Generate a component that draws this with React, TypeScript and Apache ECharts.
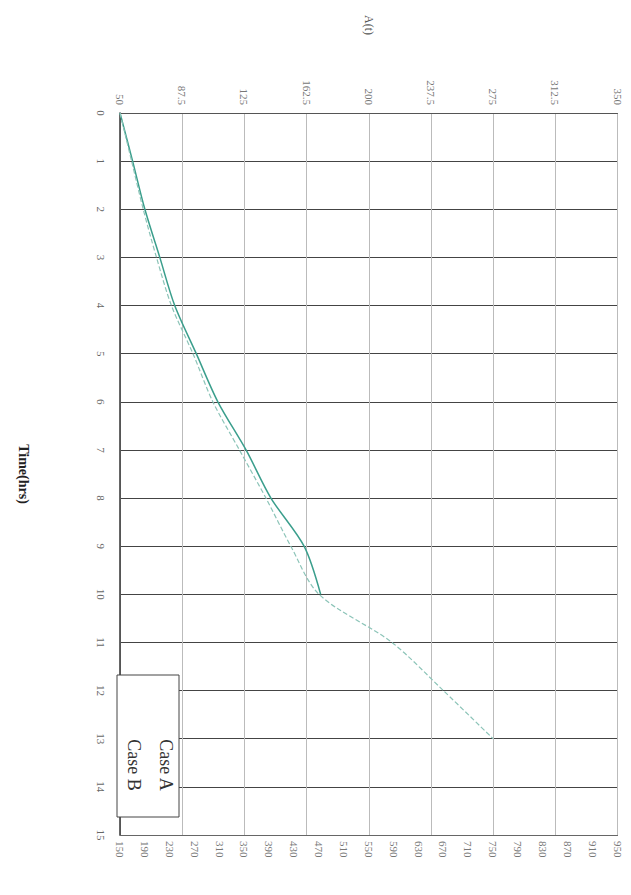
import React, { useEffect, useRef } from "react";
import * as echarts from "echarts";

// Time (hrs) for each series
const timesA = [0, 1, 2, 3, 4, 5, 6, 7, 8, 9, 10];
const caseA = [50, 57.6, 65, 74, 83, 96, 109, 126, 141, 161, 171];

const timesB = [0, 1, 2, 3, 4, 5, 6, 7, 8, 9, 10, 11, 12, 13];
const caseB = [50, 57, 64, 72, 81, 94, 106, 122, 138, 153, 170, 214, 245, 275];

// Secondary bottom scale labels
const bottomLabels = [
  "150", "190", "230", "270", "310", "350", "390", "430", "470", "510", "550",
  "590", "630", "670", "710", "750", "790", "830", "870", "910", "950",
];

const seriesNames = ["Case A", "Case B"];

const FONT = "Liberation Serif";

export default function App() {
  const ref = useRef<HTMLDivElement>(null);
  useEffect(() => {
    if (!ref.current) return;
    const chart = echarts.init(ref.current, undefined, { renderer: "svg" });
    chart.setOption({
      animation: false,
      backgroundColor: "#ffffff",
      grid: { left: 100, right: 2, top: 105, bottom: 52 },
      xAxis: [
        {
          type: "value",
          position: "top",
          min: 50,
          max: 350,
          interval: 37.5,
          name: "A(t)",
          nameLocation: "middle",
          nameRotate: -90,
          nameGap: 78,
          nameTextStyle: { fontFamily: FONT, fontSize: 12, color: "#555" },
          axisLine: { show: true, lineStyle: { color: "#555" } },
          axisTick: { show: false },
          axisLabel: {
            rotate: -90,
            fontFamily: FONT,
            fontSize: 11,
            color: "#777",
            margin: 8,
          },
          splitLine: { show: true, lineStyle: { color: "#bbbbbb", width: 1 } },
        },
        {
          type: "category",
          position: "bottom",
          boundaryGap: false,
          data: bottomLabels,
          axisLine: { show: true, lineStyle: { color: "#666" } },
          axisTick: { show: false },
          axisLabel: {
            rotate: -90,
            fontFamily: FONT,
            fontSize: 11,
            color: "#777",
            margin: 6,
            interval: 0,
          },
          splitLine: { show: false },
        },
      ],
      yAxis: {
        type: "value",
        inverse: true,
        min: 0,
        max: 15,
        interval: 1,
        name: "Time(hrs)",
        nameLocation: "middle",
        nameRotate: -90,
        nameGap: 90,
        nameTextStyle: { fontFamily: FONT, fontSize: 14, color: "#222", fontWeight: "bold" },
        axisLine: { show: true, lineStyle: { color: "#333", width: 1.5 } },
        axisTick: { show: false },
        axisLabel: {
          rotate: -90,
          fontFamily: FONT,
          fontSize: 11,
          color: "#666",
          margin: 14,
        },
        splitLine: { show: true, lineStyle: { color: "#444", width: 1.2 } },
      },
      series: [
        {
          name: seriesNames[0],
          type: "line",
          xAxisIndex: 0,
          showSymbol: false,
          smooth: 0.3,
          data: timesA.map((t, i) => [caseA[i], t]),
          lineStyle: { color: "#3a9e8c", width: 1.5 },
        },
        {
          name: seriesNames[1],
          type: "line",
          xAxisIndex: 0,
          showSymbol: false,
          smooth: 0.3,
          data: timesB.map((t, i) => [caseB[i], t]),
          lineStyle: { color: "#8cc4b8", width: 1.2, type: "dashed" },
        },
      ],
      graphic: [
        {
          type: "rect",
          shape: { x: 109, y: 667, width: 62, height: 142 },
          style: { fill: "#ffffff", stroke: "#444", lineWidth: 1 },
          z: 100,
        },
        {
          type: "text",
          x: 158,
          y: 757,
          rotation: -Math.PI / 2,
          style: {
            text: seriesNames[0],
            fontFamily: FONT,
            fontSize: 18,
            fill: "#333",
            textAlign: "center",
            textVerticalAlign: "middle",
          },
          z: 101,
        },
        {
          type: "text",
          x: 126,
          y: 757,
          rotation: -Math.PI / 2,
          style: {
            text: seriesNames[1],
            fontFamily: FONT,
            fontSize: 18,
            fill: "#333",
            textAlign: "center",
            textVerticalAlign: "middle",
          },
          z: 101,
        },
      ],
    });
    return () => chart.dispose();
  }, []);
  return <div ref={ref} style={{ width: 615, height: 879 }} />;
}
